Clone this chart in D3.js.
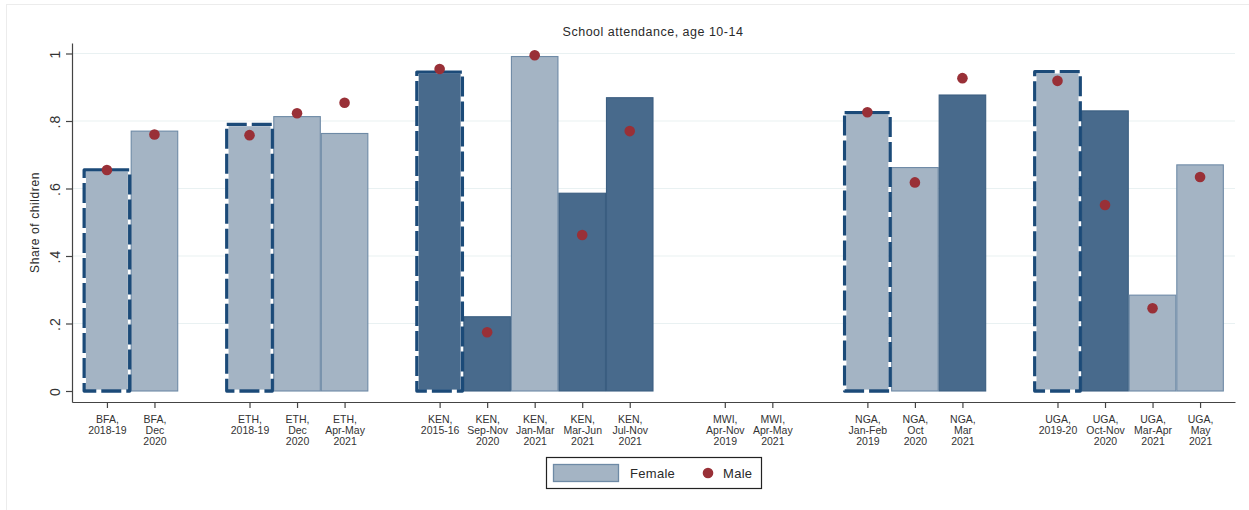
<!DOCTYPE html>
<html><head><meta charset="utf-8">
<script src="https://cdn.jsdelivr.net/npm/d3@7"></script>
<style>body{margin:0;background:#fff} svg{display:block;font-family:"Liberation Sans",Arial,sans-serif}</style>
</head><body><svg id="c" width="1249" height="510"></svg>
<script>
// ---------- data ----------
const categories = [
  "BFA,\n2018-19", "BFA,\nDec\n2020",
  "ETH,\n2018-19", "ETH,\nDec\n2020", "ETH,\nApr-May\n2021",
  "KEN,\n2015-16", "KEN,\nSep-Nov\n2020", "KEN,\nJan-Mar\n2021", "KEN,\nMar-Jun\n2021", "KEN,\nJul-Nov\n2021",
  "MWI,\nApr-Nov\n2019", "MWI,\nApr-May\n2021",
  "NGA,\nJan-Feb\n2019", "NGA,\nOct\n2020", "NGA,\nMar\n2021",
  "UGA,\n2019-20", "UGA,\nOct-Nov\n2020", "UGA,\nMar-Apr\n2021", "UGA,\nMay\n2021"
];
const female = [0.655, 0.770, 0.790, 0.813, 0.763, 0.945, 0.220, 0.991, 0.586, 0.869, null, null, 0.825, 0.662, 0.877, 0.946, 0.830, 0.284, 0.670];
const male   = [0.655, 0.760, 0.758, 0.823, 0.854, 0.954, 0.174, 0.995, 0.462, 0.770, null, null, 0.826, 0.618, 0.927, 0.919, 0.551, 0.245, 0.634];
const baseline = [true, false, true, false, false, true, false, false, false, false, false, false, true, false, false, true, false, false, false];
const shading = ["light","light","light","light","light","dark","dark","light","dark","dark","light","light","light","light","dark","light","dark","light","light"];
const yTicks = [0, 0.2, 0.4, 0.6, 0.8, 1];
const seriesNames = ["Female", "Male"];
const titleText = "School attendance, age 10-14";
const yTitleText = "Share of children";

// ---------- styles ----------
const col = {
  lightFill: "#a4b4c4", lightStroke: "#6e8aa6",
  darkFill: "#486a8c", darkStroke: "#3b5e81",
  dash: "#1b4a78", dot: "#993037", grid: "#e9f1f2", axis: "#444", text: "#333"
};

const svg = d3.select("#c");
const plot = {l: 72, r: 1235, t: 43, b: 402};

// frame
svg.append("line").attr("x1", 6).attr("x2", 1249).attr("y1", 4.5).attr("y2", 4.5).attr("stroke", "#ececec");
svg.append("line").attr("x1", 6.5).attr("x2", 6.5).attr("y1", 4.5).attr("y2", 510).attr("stroke", "#ececec");

const groups = categories.map(c => c.split(",")[0]);
const slot = [];
let gi = -1, prev = null;
groups.forEach((c, i) => { if (c !== prev) { gi++; prev = c; } slot.push(i + gi); });
const nSlots = d3.max(slot);

const x = d3.scaleLinear().domain([-0.735, nSlots + 0.735]).range([plot.l, plot.r]);
const y = d3.scaleLinear().domain([-0.0326, 1.0311]).range([plot.b, plot.t]);
const bw = x(1) - x(0);

// grid
svg.append("g").selectAll("line").data(yTicks.filter(d => d > 0)).join("line")
  .attr("x1", plot.l).attr("x2", plot.r)
  .attr("y1", d => y(d)).attr("y2", d => y(d))
  .attr("stroke", col.grid).attr("stroke-width", 1.2);

// bars
const data = categories.map((c, i) => ({c, i, s: slot[i], f: female[i], m: male[i], base: baseline[i], shade: shading[i]}));
const bars = data.filter(d => d.f != null);

const bg = svg.append("g");
bg.selectAll("rect.plain").data(bars.filter(d => !d.base)).join("rect").attr("class", "plain")
  .attr("x", d => x(d.s) - bw / 2 + 0.5).attr("width", bw - 1)
  .attr("y", d => y(d.f)).attr("height", d => y(0) - y(d.f))
  .attr("fill", d => d.shade === "dark" ? col.darkFill : col.lightFill)
  .attr("stroke", d => d.shade === "dark" ? col.darkStroke : col.lightStroke)
  .attr("stroke-width", 1.1);

bg.selectAll("rect.basefill").data(bars.filter(d => d.base)).join("rect").attr("class", "basefill")
  .attr("x", d => x(d.s) - bw / 2 + 2.8).attr("width", bw - 5.6)
  .attr("y", d => y(d.f) + 1.8).attr("height", d => y(0) - y(d.f) - 3.2)
  .attr("fill", d => d.shade === "dark" ? col.darkFill : col.lightFill);

bg.selectAll("rect.dashed").data(bars.filter(d => d.base)).join("rect").attr("class", "dashed")
  .attr("x", d => x(d.s) - bw / 2 + 1).attr("width", bw - 2)
  .attr("y", d => y(d.f)).attr("height", d => y(0) - y(d.f))
  .attr("fill", "none").attr("stroke", col.dash).attr("stroke-width", 3.3)
  .attr("stroke-dasharray", "20,5").attr("stroke-linejoin", "round");

// dots
svg.append("g").selectAll("circle").data(data.filter(d => d.m != null)).join("circle")
  .attr("cx", d => x(d.s)).attr("cy", d => y(d.m)).attr("r", 5.3).attr("fill", col.dot);

// y axis
const fmt = d => d === 0 ? "0" : d === 1 ? "1" : d3.format(".1f")(d).replace(/^0/, "");
const ya = svg.append("g").attr("transform", `translate(${plot.l},0)`)
  .call(d3.axisLeft(y).tickValues(yTicks).tickSize(6).tickSizeOuter(0).tickFormat(fmt));
ya.select(".domain").attr("stroke", col.axis).attr("stroke-width", 1.2);
ya.selectAll(".tick line").attr("stroke", col.axis).attr("stroke-width", 1.2);
ya.selectAll(".tick text")
  .attr("x", null).attr("dy", null).attr("text-anchor", "middle")
  .attr("transform", `translate(${60 - plot.l},0) rotate(-90)`)
  .attr("font-size", 14).attr("letter-spacing", 1.2).attr("fill", col.text)
  .attr("font-family", '"Liberation Sans",Arial,sans-serif');

// x axis
const xa = svg.append("g").attr("transform", `translate(0,${plot.b})`)
  .call(d3.axisBottom(x).tickValues(slot).tickSize(6).tickSizeOuter(0).tickFormat(() => ""));
xa.select(".domain").attr("stroke", col.axis).attr("stroke-width", 1.2);
xa.selectAll(".tick line").attr("stroke", col.axis).attr("stroke-width", 1.2);
xa.selectAll(".tick text").each(function(d, i) {
  const t = d3.select(this).attr("y", null).attr("dy", null)
    .attr("font-size", 10.5).attr("fill", col.text).attr("text-anchor", "middle")
    .attr("font-family", '"Liberation Sans",Arial,sans-serif');
  categories[i].split("\n").forEach((line, k) => {
    t.append("tspan").attr("x", 0).attr("y", 21 + 11 * k).text(line);
  });
});

// title
svg.append("text").attr("x", 653).attr("y", 36).attr("text-anchor", "middle")
  .attr("font-size", 12.5).attr("letter-spacing", 0.5).attr("fill", "#2a2a2a").text(titleText);

// y title
svg.append("text").attr("transform", `translate(38.5,${(plot.t + plot.b) / 2}) rotate(-90)`)
  .attr("text-anchor", "middle").attr("font-size", 12).attr("letter-spacing", 0.6)
  .attr("fill", "#2a2a2a").text(yTitleText);

// legend
const lg = svg.append("g");
lg.append("rect").attr("x", 546.5).attr("y", 457.5).attr("width", 215).attr("height", 31)
  .attr("fill", "#fff").attr("stroke", "#222").attr("stroke-width", 1.2);
lg.append("rect").attr("x", 553.5).attr("y", 464.5).attr("width", 65).attr("height", 17)
  .attr("fill", col.lightFill).attr("stroke", col.lightStroke).attr("stroke-width", 1.3);
lg.append("text").attr("x", 630).attr("y", 478).attr("font-size", 13).attr("letter-spacing", 0.3)
  .attr("fill", "#2a2a2a").text(seriesNames[0]);
lg.append("circle").attr("cx", 708).attr("cy", 473).attr("r", 5.3).attr("fill", col.dot);
lg.append("text").attr("x", 723).attr("y", 478).attr("font-size", 13).attr("letter-spacing", 0.3)
  .attr("fill", "#2a2a2a").text(seriesNames[1]);
</script></body></html>
